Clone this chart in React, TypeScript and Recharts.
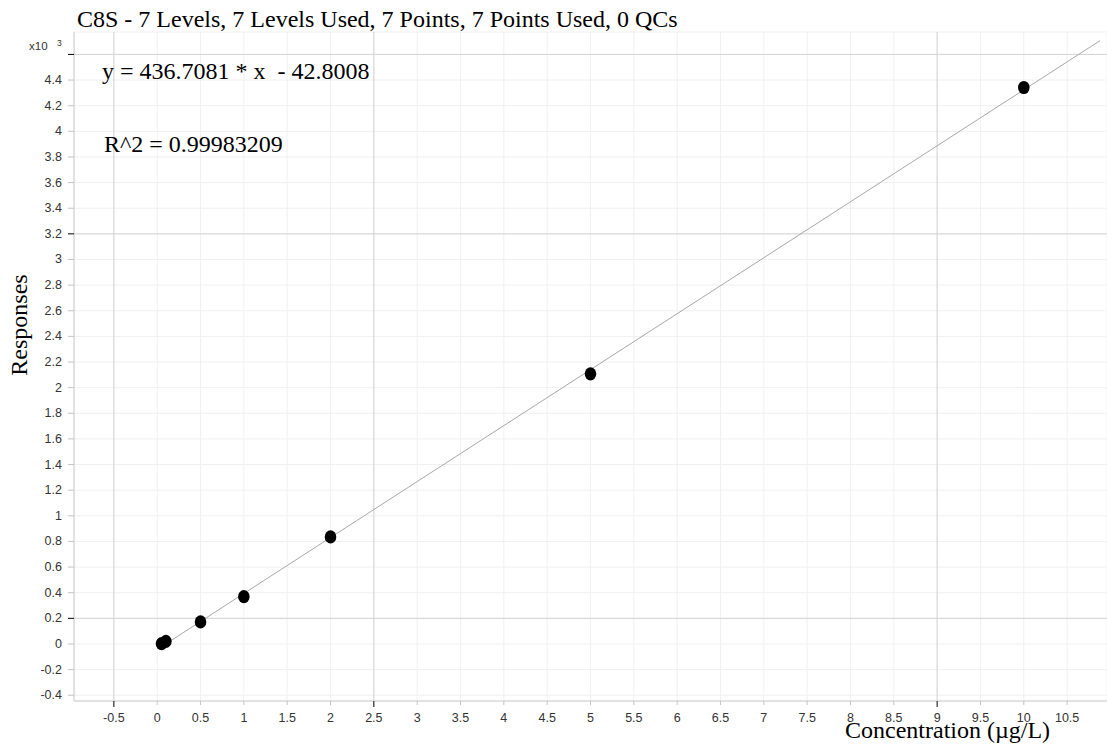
import React from "react";
import {
  ScatterChart,
  Scatter,
  XAxis,
  YAxis,
  CartesianGrid,
  ReferenceLine,
} from "recharts";

// calibration levels (µg/L) and measured responses
const concentrations = [0.05, 0.1, 0.5, 1, 2, 5, 10];
const responses = [3, 20, 172, 369, 835, 2108, 4342];

// ends of the fitted line as drawn
const fitX = [0.05, 10.88];
const fitY = [-21, 4708];

const xTicks = [
  -0.5, 0, 0.5, 1, 1.5, 2, 2.5, 3, 3.5, 4, 4.5, 5, 5.5, 6, 6.5, 7, 7.5, 8, 8.5, 9, 9.5, 10, 10.5,
];
const yTicks = [
  -400, -200, 0, 200, 400, 600, 800, 1000, 1200, 1400, 1600, 1800, 2000, 2200, 2400, 2600,
  2800, 3000, 3200, 3400, 3600, 3800, 4000, 4200, 4400, 4600,
];
const majorX = [-0.5, 2.5, 9];
const majorY = [200, 3200, 4600];

const points = concentrations.map((x, i) => ({ x, y: responses[i] }));
const fitLine = fitX.map((x, i) => ({ x, y: fitY[i] }));

const SANS = "'Liberation Sans', Arial, sans-serif";
const SERIF = "'Liberation Serif', 'Times New Roman', serif";

function XTick(props: any) {
  const { x, y, payload } = props;
  const v = payload.value;
  const major = majorX.includes(v);
  const axisY = y - 6;
  return (
    <g>
      <line x1={x} x2={x} y1={axisY} y2={axisY + (major ? 6 : 4)} stroke={major ? "#000" : "#c4c4c4"} />
      <text x={x} y={axisY + 21} textAnchor="middle" fontSize={12.5} fontFamily={SANS} fill="#333">
        {String(v)}
      </text>
    </g>
  );
}

function YTick(props: any) {
  const { x, y, payload } = props;
  const v = payload.value;
  const major = majorY.includes(v);
  const axisX = x + 6;
  return (
    <g>
      <line x1={axisX - 6} x2={axisX} y1={y} y2={y} stroke={major ? "#000" : "#c4c4c4"} />
      {v !== 4600 && (
        <text x={axisX - 12} y={y + 4} textAnchor="end" fontSize={12.5} fontFamily={SANS} fill="#333">
          {String(v / 1000)}
        </text>
      )}
    </g>
  );
}

function Dot(props: any) {
  return <ellipse cx={props.cx} cy={props.cy} rx={5.8} ry={6.6} fill="#000" />;
}

export default function App() {
  return (
    <div style={{ position: "absolute", left: 0, top: 0, width: 1107, height: 748, background: "#fff" }}>
      <ScatterChart width={1107} height={748} margin={{ top: 32, right: 0, bottom: 0, left: 0 }}>
        <CartesianGrid stroke="#f0f0f0" />
        <XAxis
          type="number"
          dataKey="x"
          domain={[-0.96, 10.96]}
          allowDataOverflow
          ticks={xTicks}
          interval={0}
          height={47}
          tickSize={6}
          tickMargin={0}
          tickLine={false}
          axisLine={{ stroke: "#cccccc" }}
          tick={<XTick />}
        />
        <YAxis
          type="number"
          dataKey="y"
          domain={[-445, 4775]}
          allowDataOverflow
          ticks={yTicks}
          interval={0}
          width={74}
          tickSize={6}
          tickMargin={0}
          tickLine={false}
          axisLine={{ stroke: "#cccccc" }}
          tick={<YTick />}
        />
        {majorX.map((v) => (
          <ReferenceLine key={"mx" + v} x={v} stroke="#d4d4d4" />
        ))}
        {majorY.map((v) => (
          <ReferenceLine key={"my" + v} y={v} stroke="#d4d4d4" />
        ))}
        <Scatter
          data={fitLine}
          line={{ stroke: "#a8a8a8", strokeWidth: 1 }}
          shape={() => <g />}
          isAnimationActive={false}
        />
        <Scatter data={points} shape={<Dot />} isAnimationActive={false} />
      </ScatterChart>
      <svg
        width={1107}
        height={748}
        style={{ position: "absolute", left: 0, top: 0, pointerEvents: "none" }}
      >
        <text x={77} y={27} fontSize={24} fontFamily={SERIF} fill="#000">
          C8S - 7 Levels, 7 Levels Used, 7 Points, 7 Points Used, 0 QCs
        </text>
        <text x={102} y={79} fontSize={24} fontFamily={SERIF} fill="#000" style={{ whiteSpace: "pre" }}>
          {"y = 436.7081 * x  - 42.8008"}
        </text>
        <text x={104} y={152} fontSize={24} fontFamily={SERIF} fill="#000">
          R^2 = 0.99983209
        </text>
        <text x={29} y={50} fontSize={11.5} fontFamily={SANS} fill="#333">
          x10
        </text>
        <text x={57} y={46} fontSize={8.5} fontFamily={SANS} fill="#333">
          3
        </text>
        <text
          x={27}
          y={325}
          fontSize={24}
          fontFamily={SERIF}
          fill="#000"
          textAnchor="middle"
          transform="rotate(-90 27 325)"
        >
          Responses
        </text>
        <text x={845} y={738} fontSize={24} fontFamily={SERIF} fill="#000">
          Concentration (µg/L)
        </text>
      </svg>
    </div>
  );
}
